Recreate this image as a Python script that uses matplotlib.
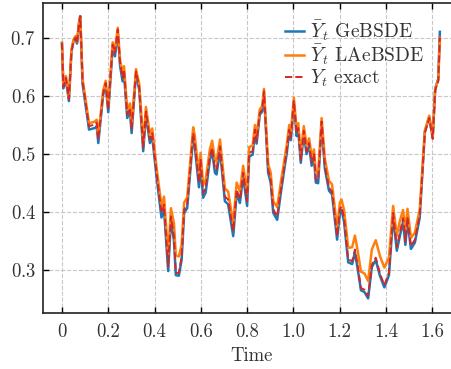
import numpy as np
import matplotlib
matplotlib.use('Agg')
import matplotlib.pyplot as plt

plt.rcParams['font.family'] = 'serif'
plt.rcParams['font.serif'] = ['cmr10', 'DejaVu Serif']
plt.rcParams['mathtext.fontset'] = 'cm'
plt.rcParams['axes.formatter.use_mathtext'] = True

# time grid (vertices)
time = [0.000, 0.006, 0.017, 0.030, 0.041, 0.050, 0.059, 0.065, 0.073, 0.079,
        0.089, 0.117, 0.143, 0.150, 0.157, 0.178, 0.189, 0.200, 0.219, 0.229,
        0.241, 0.251, 0.262, 0.268, 0.282, 0.294, 0.301, 0.320, 0.334, 0.351,
        0.363, 0.380, 0.390, 0.409, 0.430, 0.441, 0.459, 0.471, 0.484, 0.492,
        0.505, 0.517, 0.528, 0.541, 0.567, 0.574, 0.592, 0.599, 0.610, 0.621,
        0.639, 0.649, 0.661, 0.668, 0.683, 0.704, 0.718, 0.740, 0.755, 0.769,
        0.783, 0.800, 0.809, 0.824, 0.834, 0.841, 0.855, 0.865, 0.873, 0.891,
        0.902, 0.913, 0.930, 0.946, 0.963, 0.971, 0.982, 0.989, 1.002, 1.014,
        1.021, 1.032, 1.045, 1.057, 1.068, 1.079, 1.089, 1.097, 1.107, 1.122,
        1.136, 1.154, 1.167, 1.189, 1.201, 1.208, 1.219, 1.237, 1.254, 1.266,
        1.277, 1.292, 1.307, 1.323, 1.339, 1.356, 1.374, 1.393, 1.413, 1.431,
        1.447, 1.460, 1.474, 1.484, 1.493, 1.508, 1.525, 1.546, 1.568, 1.587,
        1.602, 1.613, 1.626, 1.633]

y_exact = [0.691, 0.616, 0.631, 0.594, 0.676, 0.694, 0.700, 0.690, 0.722, 0.737,
           0.625, 0.548, 0.551, 0.554, 0.525, 0.605, 0.622, 0.576, 0.688, 0.674,
           0.714, 0.657, 0.631, 0.645, 0.568, 0.579, 0.542, 0.642, 0.614, 0.511,
           0.573, 0.525, 0.536, 0.466, 0.399, 0.413, 0.307, 0.393, 0.359, 0.296,
           0.296, 0.324, 0.405, 0.413, 0.536, 0.519, 0.451, 0.490, 0.433, 0.442,
           0.496, 0.511, 0.476, 0.473, 0.513, 0.427, 0.422, 0.367, 0.439, 0.422,
           0.468, 0.419, 0.502, 0.505, 0.542, 0.522, 0.571, 0.576, 0.608, 0.473,
           0.456, 0.405, 0.393, 0.440, 0.485, 0.505, 0.542, 0.528, 0.591, 0.535,
           0.545, 0.490, 0.540, 0.505, 0.519, 0.485, 0.500, 0.456, 0.455, 0.556,
           0.480, 0.442, 0.436, 0.359, 0.405, 0.410, 0.390, 0.319, 0.316, 0.336,
           0.310, 0.270, 0.267, 0.256, 0.310, 0.322, 0.295, 0.275, 0.296, 0.399,
           0.340, 0.365, 0.390, 0.350, 0.392, 0.342, 0.353, 0.395, 0.536, 0.562,
           0.526, 0.610, 0.625, 0.700]

# deviations of the two schemes from the exact curve
ge_err = [0.000, -0.003, -0.003, -0.003, 0.000, 0.000, 0.000, 0.000, 0.000, 0.000,
          -0.004, -0.006, -0.006, -0.006, -0.006, -0.003, -0.003, -0.004, -0.005, -0.006,
          -0.004, -0.005, -0.006, -0.006, -0.006, -0.006, -0.006, -0.003, -0.004, -0.006,
          -0.005, -0.006, -0.006, -0.006, -0.008, -0.008, -0.008, -0.006, -0.008, -0.004,
          -0.005, -0.006, -0.006, -0.006, -0.006, -0.006, -0.008, -0.008, -0.008, -0.008,
          -0.006, -0.006, -0.008, -0.008, -0.006, -0.008, -0.008, -0.008, -0.006, -0.006,
          -0.006, -0.008, -0.006, -0.006, -0.004, -0.004, -0.003, -0.003, -0.003, -0.005,
          -0.005, -0.006, -0.006, -0.006, -0.005, -0.005, -0.004, -0.004, -0.003, -0.004,
          -0.004, -0.005, -0.004, -0.005, -0.004, -0.005, -0.004, -0.005, -0.005, -0.004,
          -0.005, -0.005, -0.005, -0.006, -0.006, -0.006, -0.006, -0.005, -0.005, -0.005,
          -0.005, -0.004, -0.004, -0.004, -0.004, -0.004, -0.004, -0.004, -0.004, -0.006,
          -0.006, -0.006, -0.006, -0.006, -0.006, -0.005, -0.005, -0.004, 0.002, 0.002,
          0.002, 0.003, 0.004, 0.010]

la_err = [0.000, 0.003, 0.003, 0.003, 0.003, 0.003, 0.003, 0.003, 0.003, 0.000,
          0.004, 0.005, 0.005, 0.005, 0.005, 0.004, 0.004, 0.005, 0.004, 0.004,
          0.003, 0.005, 0.006, 0.006, 0.008, 0.008, 0.008, 0.004, 0.006, 0.008,
          0.008, 0.008, 0.008, 0.010, 0.012, 0.014, 0.020, 0.014, 0.022, 0.030,
          0.028, 0.020, 0.012, 0.012, 0.010, 0.012, 0.014, 0.012, 0.014, 0.014,
          0.012, 0.012, 0.014, 0.014, 0.012, 0.014, 0.014, 0.014, 0.012, 0.014,
          0.012, 0.014, 0.010, 0.010, 0.008, 0.008, 0.006, 0.006, 0.004, 0.010,
          0.012, 0.014, 0.016, 0.012, 0.010, 0.010, 0.008, 0.008, 0.006, 0.008,
          0.008, 0.010, 0.008, 0.010, 0.008, 0.010, 0.008, 0.012, 0.012, 0.006,
          0.012, 0.012, 0.012, 0.014, 0.012, 0.012, 0.014, 0.020, 0.024, 0.024,
          0.026, 0.028, 0.028, 0.026, 0.026, 0.030, 0.030, 0.030, 0.026, 0.012,
          0.020, 0.020, 0.014, 0.018, 0.014, 0.014, 0.012, 0.010, 0.004, 0.004,
          0.004, 0.002, 0.002, 0.000]

x_ticks = [0, 0.2, 0.4, 0.6, 0.8, 1.0, 1.2, 1.4, 1.6]
x_tick_labels = ['0', '0.2', '0.4', '0.6', '0.8', '1.0', '1.2', '1.4', '1.6']
y_ticks = [0.3, 0.4, 0.5, 0.6, 0.7]

t = np.array(time)
y_ex = np.array(y_exact)
y_ge = y_ex + np.array(ge_err)
y_la = y_ex + np.array(la_err)

fig = plt.figure(figsize=(4.52, 3.69), dpi=100)
ax = fig.add_axes([0.0951, 0.1518, 0.9226, 0.8401])

ax.plot(t, y_ge, color='#1f77b4', lw=1.8, label=r'$\bar{Y}_t$ GeBSDE')
ax.plot(t, y_la, color='#ff7f0e', lw=1.8, label=r'$\bar{Y}_t$ LAeBSDE')
ax.plot(t, y_ex, color='#d62728', lw=1.4, ls='--', label=r'$Y_t$ exact')

ax.set_xlim(-0.082, 1.72)
ax.set_ylim(0.227, 0.7596)
ax.set_xticks(x_ticks)
ax.set_xticklabels(x_tick_labels)
ax.set_yticks(y_ticks)
ax.tick_params(direction='in', length=4.5, width=1.0, labelsize=13.5, pad=5,
               labelcolor='#333333', top=True, right=True)
ax.tick_params(axis='x', pad=7)
ax.grid(True, ls='--', color='#c8c8c8', lw=0.8)
for s in ax.spines.values():
    s.set_linewidth(1.2)
    s.set_color('#222222')
ax.set_xlabel('Time', fontsize=13.5, labelpad=5, color='#333333')

leg = ax.legend(loc='upper left', bbox_to_anchor=(0.5616, 0.975), frameon=False, fontsize=14,
                handlelength=1.0, handletextpad=0.3, labelspacing=0.0, borderaxespad=0.0)
for txt in leg.get_texts():
    txt.set_color('#333333')

fig.savefig('out.png', dpi=100)
